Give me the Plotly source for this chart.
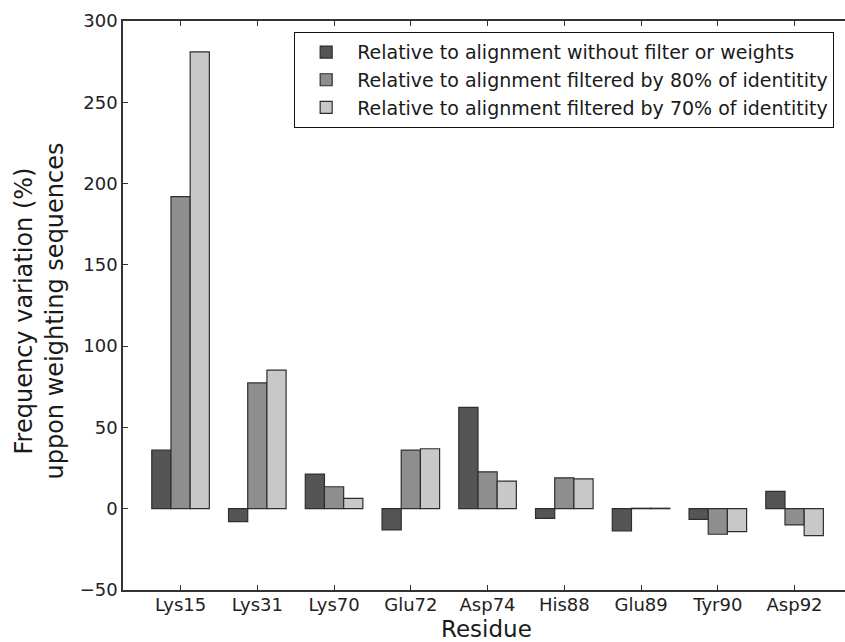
import plotly.graph_objects as go

residues = ["Lys15", "Lys31", "Lys70", "Glu72", "Asp74", "His88", "Glu89", "Tyr90", "Asp92"]
no_filter = [36, -8, 21.3, -13, 62.3, -5.9, -13.7, -6.5, 10.7]
filtered_80 = [192, 77.4, 13.5, 36, 22.7, 19, 0.3, -15.7, -10]
filtered_70 = [281, 85.2, 6.4, 36.9, 17, 18.4, 0.3, -14.1, -16.6]
series_names = [
    "Relative to alignment without filter or weights",
    "Relative to alignment filtered by 80% of identitity",
    "Relative to alignment filtered by 70% of identitity",
]
series_colors = ["#555555", "#8e8e8e", "#c8c8c8"]
y_ticks = [-50, 0, 50, 100, 150, 200, 250, 300]

fig = go.Figure()
for name, vals, col in zip(series_names, [no_filter, filtered_80, filtered_70], series_colors):
    fig.add_trace(go.Bar(
        x=list(range(len(residues))), y=vals, name=name,
        marker=dict(color=col, line=dict(color="#2e2e2e", width=1.2)),
    ))

font_family = "DejaVu Sans"
fig.update_layout(
    width=845, height=642,
    margin=dict(l=123, r=0, t=21, b=52),
    plot_bgcolor="white", paper_bgcolor="white",
    barmode="group", bargap=0.25, bargroupgap=0,
    font=dict(family=font_family, color="#222222", size=18),
    legend=dict(
        x=0.2368, y=0.9807, xanchor="left", yanchor="top",
        bordercolor="#111111", borderwidth=1.2, bgcolor="white",
        font=dict(size=19, family=font_family, color="#1a1a1a"),
        tracegroupgap=0, itemwidth=52,
    ),
    xaxis=dict(
        range=[-0.75, 8.657], automargin=False,
        tickmode="array", tickvals=list(range(len(residues))), ticktext=residues,
        ticks="inside", ticklen=5, tickcolor="#333333", tickwidth=1,
        showline=True, linecolor="#333333", linewidth=1.5, mirror="ticks",
        showgrid=False, zeroline=False,
        tickfont=dict(size=18), ticklabelstandoff=-2,
    ),
    yaxis=dict(
        range=[-50, 300], automargin=False,
        tickmode="array", tickvals=y_ticks,
        ticks="inside", ticklen=5, tickcolor="#333333", tickwidth=1,
        showline=True, linecolor="#333333", linewidth=1.5, mirror=False,
        showgrid=False, zeroline=False,
        tickfont=dict(size=18),
    ),
    annotations=[
        dict(
            text="Frequency variation (%)<br>uppon weighting sequences",
            xref="paper", yref="paper", x=0, y=0.5, xanchor="center", yanchor="middle",
            xshift=-84, yshift=-6, textangle=-90, showarrow=False,
            font=dict(size=24, family=font_family, color="#1a1a1a"),
        ),
        dict(
            text="Residue",
            xref="paper", yref="paper", x=0.5, y=0, xanchor="center", yanchor="top",
            xshift=2, yshift=-25, showarrow=False, borderpad=0,
            font=dict(size=23, family=font_family, color="#1a1a1a"),
        ),
    ],
)

fig.write_html("out.html")
